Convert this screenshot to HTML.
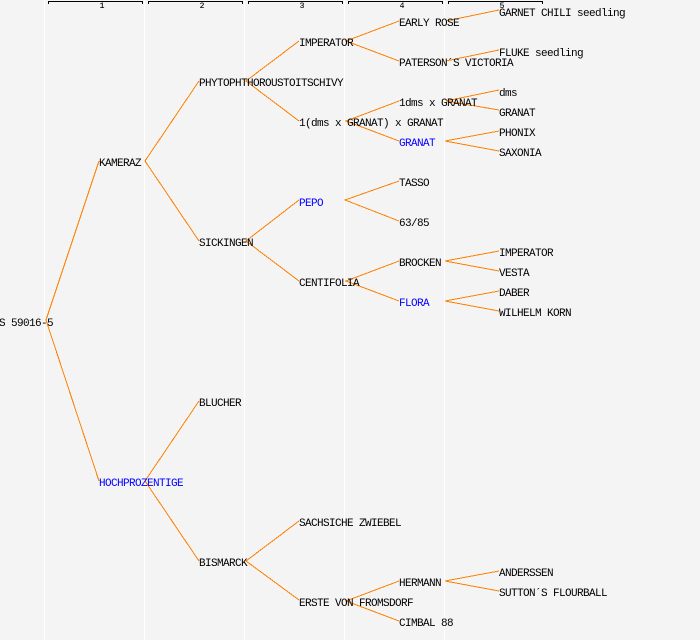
<!DOCTYPE html>
<html>
<head>
<meta charset="utf-8">
<style>
html,body{margin:0;padding:0;background:#f4f4f4;width:700px;height:640px;overflow:hidden}
svg{display:block}
text{font-family:"Liberation Mono",monospace;font-size:11px;letter-spacing:-0.6px;fill:#000;white-space:pre}
text.b{fill:#0000ff}
text.n{font-size:8px;letter-spacing:0;stroke:#000;stroke-width:0.1px}
.w{stroke:#fff;stroke-width:1;shape-rendering:crispEdges}
.k{stroke:#000;stroke-width:1;fill:none;shape-rendering:crispEdges}
.o{stroke:#ff8000;stroke-width:1;fill:none;shape-rendering:crispEdges}
</style>
</head>
<body>
<svg width="700" height="640" viewBox="0 0 700 640" xmlns="http://www.w3.org/2000/svg">
<rect width="700" height="640" fill="#f4f4f4"/>
<g class="w">
<line x1="44.5" y1="0" x2="44.5" y2="640"/>
<line x1="144.5" y1="0" x2="144.5" y2="640"/>
<line x1="244.5" y1="0" x2="244.5" y2="640"/>
<line x1="344.5" y1="0" x2="344.5" y2="640"/>
<line x1="444.5" y1="0" x2="444.5" y2="640"/>
</g>
<g class="k">
<path d="M48.5 4V1.5H142.5V4"/>
<path d="M148.5 4V1.5H242.5V4"/>
<path d="M248.5 4V1.5H342.5V4"/>
<path d="M348.5 4V1.5H442.5V4"/>
<path d="M448.5 4V1.5H542.5V4"/>
</g>
<g text-anchor="middle">
<text class="n" x="102" y="8">1</text>
<text class="n" x="202" y="8">2</text>
<text class="n" x="302" y="8">3</text>
<text class="n" x="402" y="8">4</text>
<text class="n" x="502" y="8">5</text>
</g>
<g class="o">
<path d="M99 161L46 320L99 481"/>
<path d="M199 81L145 161L199 241"/>
<path d="M199 401L145 481L199 561"/>
<path d="M299 41L246 81L299 121"/>
<path d="M299 200L246 241L299 281"/>
<path d="M299 521L246 561L299 600"/>
<path d="M399 21L346 41L399 61"/>
<path d="M399 101L346 121L399 141"/>
<path d="M399 181L345 200L399 221"/>
<path d="M399 261L346 281L399 301"/>
<path d="M399 581L346 601L399 621"/>
<path d="M499 10L446 21"/>
<path d="M499 50L446 61"/>
<path d="M499 90L446 101L499 110"/>
<path d="M499 131L445 141L499 151"/>
<path d="M499 251L445 261L499 271"/>
<path d="M499 291L445 301L499 311"/>
<path d="M499 571L445 581L499 591"/>
</g>
<text x="-1" y="326">S 59016-5</text>
<text x="99" y="166">KAMERAZ</text>
<text x="99" y="486" class="b">HOCHPROZENTIGE</text>
<text x="199" y="86">PHYTOPHTHOROUSTOITSCHIVY</text>
<text x="199" y="246">SICKINGEN</text>
<text x="199" y="406">BLUCHER</text>
<text x="199" y="566">BISMARCK</text>
<text x="299" y="46">IMPERATOR</text>
<text x="299" y="126">1(dms x GRANAT) x GRANAT</text>
<text x="299" y="206" class="b">PEPO</text>
<text x="299" y="286">CENTIFOLIA</text>
<text x="299" y="526">SACHSICHE ZWIEBEL</text>
<text x="299" y="606">ERSTE VON FROMSDORF</text>
<text x="399" y="26">EARLY ROSE</text>
<text x="399" y="66">PATERSON´S VICTORIA</text>
<text x="399" y="106">1dms x GRANAT</text>
<text x="399" y="146" class="b">GRANAT</text>
<text x="399" y="186">TASSO</text>
<text x="399" y="226">63/85</text>
<text x="399" y="266">BROCKEN</text>
<text x="399" y="306" class="b">FLORA</text>
<text x="399" y="586">HERMANN</text>
<text x="399" y="626">CIMBAL 88</text>
<text x="499" y="16">GARNET CHILI seedling</text>
<text x="499" y="56">FLUKE seedling</text>
<text x="499" y="96">dms</text>
<text x="499" y="116">GRANAT</text>
<text x="499" y="136">PHONIX</text>
<text x="499" y="156">SAXONIA</text>
<text x="499" y="256">IMPERATOR</text>
<text x="499" y="276">VESTA</text>
<text x="499" y="296">DABER</text>
<text x="499" y="316">WILHELM KORN</text>
<text x="499" y="576">ANDERSSEN</text>
<text x="499" y="596">SUTTON´S FLOURBALL</text>
</svg>
</body>
</html>
